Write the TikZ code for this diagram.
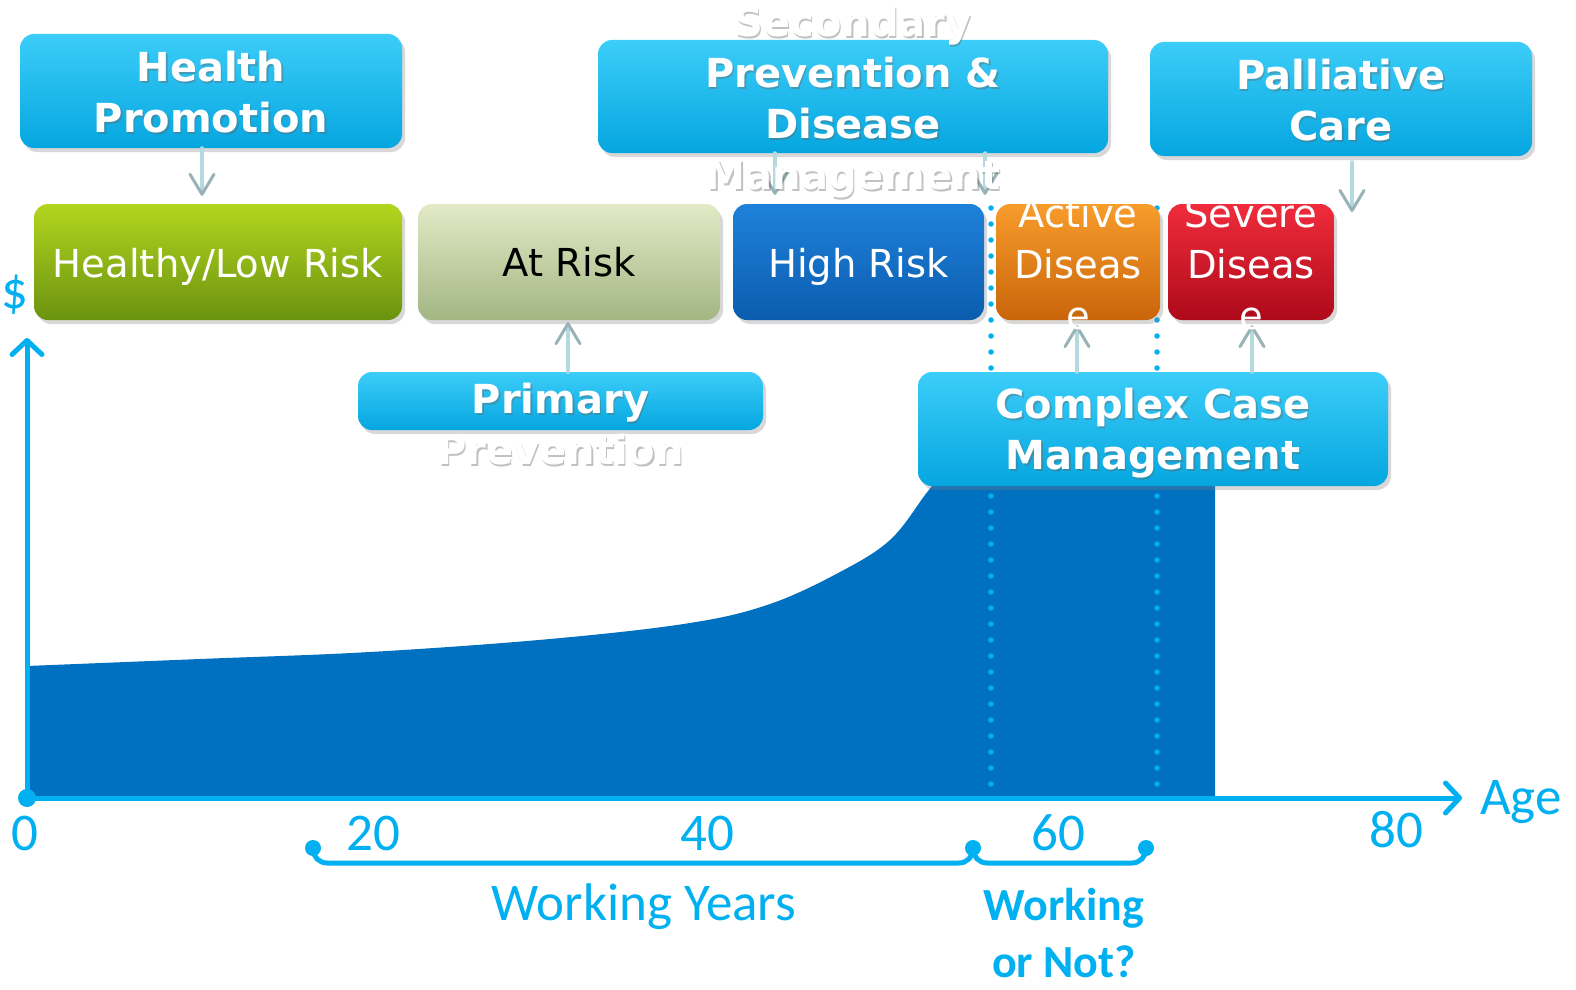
\documentclass[tikz,border=0pt]{standalone}
\usepackage{fontspec}
\newfontfamily\boxfont{DejaVu Sans}
\newfontfamily\axfont{Carlito}
\usetikzlibrary{arrows.meta,calc,shadows}

\definecolor{axcyan}{HTML}{00B0F0}
\definecolor{areablue}{HTML}{0070C0}
\definecolor{cyantop}{HTML}{3CCDF8}
\definecolor{cyanbot}{HTML}{05A6E0}
\definecolor{greentop}{HTML}{B2D61E}
\definecolor{greenbot}{HTML}{6B9210}
\definecolor{paletop}{HTML}{E2EAC6}
\definecolor{palebot}{HTML}{A3B683}
\definecolor{bluetop}{HTML}{1F82DA}
\definecolor{bluebot}{HTML}{0B5CAE}
\definecolor{orangetop}{HTML}{F89C2C}
\definecolor{orangebot}{HTML}{C9650A}
\definecolor{redtop}{HTML}{F02C3C}
\definecolor{redbot}{HTML}{AE0A1A}
\definecolor{connshaft}{HTML}{B4DAE0}
\definecolor{conntip}{HTML}{98B2B8}

% white bold text with a soft grey shadow (name, coordinate, text)
\newcommand{\shadowtext}[3]{%
  \node[caretxt, text=black!60, opacity=0.4] at ([shift={(1.5pt,-2pt)}]#2) {#3};
  \node[caretxt] (#1) at (#2) {#3};}

\begin{document}
\begin{tikzpicture}[x=1pt, y=-1pt, line cap=round, line join=round,
	shadowed/.style={rounded corners=14pt, inner sep=0pt,
		drop shadow={shadow xshift=3pt, shadow yshift=-4pt, opacity=0.3}},
	stagebox/.style={shadowed, minimum height=116pt},
	carebox/.style={shadowed, minimum height=114pt, top color=cyantop, bottom color=cyanbot},
	stagetxt/.style={font=\boxfont\fontsize{38.5}{51}\selectfont, text=white, align=center},
	caretxt/.style={font=\boxfont\bfseries\fontsize{40}{51}\selectfont, text=white, align=center},
	axlab/.style={font=\axfont\fontsize{53}{60}\selectfont, text=axcyan},
	axis/.style={line width=5pt, draw=axcyan, -{Straight Barb[round, length=14pt, width=30pt, line width=5pt]}},
	sepline/.style={draw=axcyan, line width=5.5pt, dash pattern=on 0pt off 16pt},
	brace/.style={draw=axcyan, line width=5pt, rounded corners=14pt},
	conn/.style={draw=connshaft, line width=4pt, -{Straight Barb[round, length=20pt, width=24pt, line width=3pt, color=conntip]}}]
	
	\useasboundingbox (0,0) rectangle (1576,990);
	\fill[white] (0,0) rectangle (1576,990);
	
	% cost over the years
	\fill[areablue] (27,796) -- plot[smooth, tension=0.6] coordinates {(27,666) (200,659) (370,652) (550,639) (690,623) (770,604) (840,572) (890,540) (925,495) (938,478)}
		-- (1215,478) -- (1215,796) -- cycle;
	
	% dotted separators
	\draw[sepline] (991,208) -- (991,795);
	\draw[sepline] (1157,208) -- (1157,795);
	
	% axes
	\coordinate (O) at (27,798);
	\coordinate (ytop) at (27,338);
	\coordinate (xend) at (1462,798);
	\draw[axis] (O) -- (ytop);
	\draw[axis] (O) -- (xend);
	\fill[axcyan] (O) circle[radius=9pt];
	\node[axlab] (dollar) at (15,295) {\$};
	\node[axlab, anchor=base] (age) at (1521,814) {Age};
	\node[axlab] (t0) at (25,833) {0};
	\node[axlab] (t20) at (373,833) {20};
	\node[axlab] (t40) at (707,833) {40};
	\node[axlab] (t60) at (1058,833) {60};
	\node[axlab] (t80) at (1396,830) {80};
	
	% braces under the axis
	\coordinate (b1) at (313,848);
	\coordinate (b2) at (973,848);
	\coordinate (b3) at (1146,848);
	\draw[brace] (b1) |- (b2 |- 0,863) -- (b2);
	\draw[brace] (b2) |- (b3 |- 0,863) -- (b3);
	\foreach \b in {b1,b2,b3}
		\fill[axcyan] (\b) circle[radius=8pt];
	\node[axlab, anchor=base] (work) at (644,920) {Working Years};
	\node[axlab, font=\axfont\bfseries\fontsize{46}{57}\selectfont, align=center] (worknot) at (1064,933) {Working\\or Not?};
	
	% stages of risk
	\node[stagebox, top color=greentop, bottom color=greenbot, minimum width=368pt] (low) at (218,262) {};
	\node[stagebox, top color=paletop, bottom color=palebot, minimum width=302pt] (atrisk) at (569,262) {};
	\node[stagebox, top color=bluetop, bottom color=bluebot, minimum width=251pt] (high) at (858.5,262) {};
	\node[stagebox, top color=orangetop, bottom color=orangebot, minimum width=164pt] (active) at (1078,262) {};
	\node[stagebox, top color=redtop, bottom color=redbot, minimum width=166pt] (severe) at (1251,262) {};
	
	% kinds of care
	\node[carebox, minimum width=382pt] (hp) at (211,91) {};
	\node[carebox, minimum width=510pt, minimum height=113pt] (sec) at (853,96.5) {};
	\node[carebox, minimum width=382pt] (pal) at (1341,99) {};
	\node[carebox, minimum width=405pt, minimum height=58pt] (prim) at (560.5,401) {};
	\node[carebox, minimum width=470pt] (ccm) at (1153,429) {};
	
	% connectors
	\coordinate (paltip) at (1352,212);
	\draw[conn, shorten >=8pt] ([xshift=-9pt]hp.south) -- ([xshift=-16pt]low.north);
	\draw[conn, shorten >=9pt] ([xshift=-78pt]sec.south) -- ([xshift=-83.5pt]high.north);
	\draw[conn, shorten >=9pt] ([xshift=132pt]sec.south) -- ([xshift=-93pt]active.north);
	\draw[conn] ([yshift=-6pt]pal.south -| paltip) -- (paltip);
	\draw[conn, shorten >=2pt] ([xshift=7.5pt]prim.north) -- ([xshift=-1pt]atrisk.south);
	\draw[conn, shorten >=5pt] ([xshift=-76pt]ccm.north) -- ([xshift=-1pt]active.south);
	\draw[conn, shorten >=5pt] ([xshift=99pt]ccm.north) -- ([xshift=1pt]severe.south);
	
	% stage labels
	\node[stagetxt] (lowtxt) at ([yshift=-5pt]low.center) {Healthy/Low Risk};
	\node[stagetxt, text=black] (attxt) at (atrisk.center) {At Risk};
	\node[stagetxt] (hightxt) at ([yshift=-5pt]high.center) {High Risk};
	\node[stagetxt] (acttxt) at ([yshift=-2pt]active.center) {Active\\Diseas\\e};
	\node[stagetxt] (sevtxt) at ([yshift=-2pt]severe.center) {Severe\\Diseas\\e};
	
	% care labels
	\coordinate (hpc) at ([yshift=-1pt]hp.center);
	\coordinate (secc) at ([yshift=-6pt]sec.center);
	\coordinate (palc) at ([yshift=-1.5pt]pal.center);
	\coordinate (primc) at ([yshift=-23.5pt]prim.center);
	\coordinate (ccmc) at ([yshift=-4pt]ccm.center);
	\shadowtext{hptxt}{hpc}{Health\\Promotion}
	\shadowtext{sectxt}{secc}{Secondary\\Prevention \&\\Disease\\Management}
	\shadowtext{paltxt}{palc}{Palliative\\Care}
	\shadowtext{primtxt}{primc}{Primary\\Prevention}
	\shadowtext{ccmtxt}{ccmc}{Complex Case\\Management}
	
\end{tikzpicture}
\end{document}
